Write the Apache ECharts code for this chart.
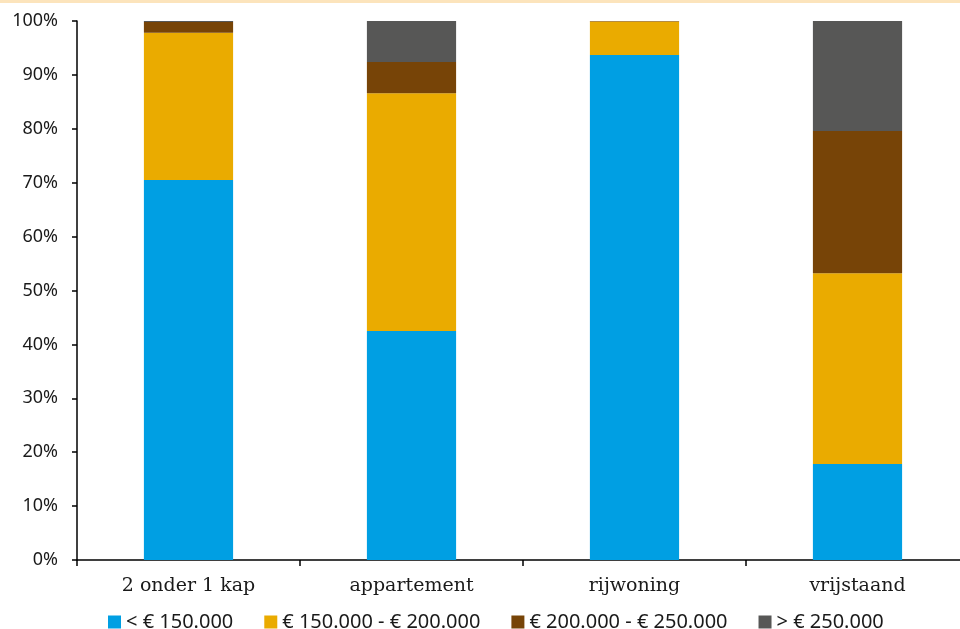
<!DOCTYPE html>
<html><head><meta charset="utf-8">
<script src="https://cdn.jsdelivr.net/npm/echarts@6/dist/echarts.min.js"></script>
<style>html,body{margin:0;padding:0;background:#fff}#c{width:960px;height:629px}</style>
</head><body><div id="c"></div>
<script>
const categories = ['2 onder 1 kap', 'appartement', 'rijwoning', 'vrijstaand'];
const seriesNames = ['< € 150.000', '€ 150.000 - € 200.000', '€ 200.000 - € 250.000', '> € 250.000'];
const s1 = [70.5, 42.5, 93.7, 17.8];
const s2 = [27.3, 44.1, 6.2, 35.4];
const s3 = [2.0, 5.8, 0.1, 26.4];
const s4 = [0.2, 7.6, 0.0, 20.4];
const colors = ['#009FE3', '#EAAB00', '#774407', '#575756'];
const yTicks = [0, 10, 20, 30, 40, 50, 60, 70, 80, 90, 100];

const chart = echarts.init(document.getElementById('c'));
const data = [s1, s2, s3, s4];
chart.setOption({
  animation: false,
  graphic: [{type: 'rect', shape: {x: 0, y: 0, width: 960, height: 3}, style: {fill: '#FCE4BC'}}],
  grid: {left: 77, top: 21, width: 892, height: 539, outerBoundsMode: 'none', containLabel: false},
  legend: {
    top: 607, left: 103, itemWidth: 13, itemHeight: 13, itemGap: 31,
    icon: 'rect',
    textStyle: {fontFamily: 'Noto Sans', fontSize: 20, color: '#1a1a1a'},
    data: seriesNames
  },
  xAxis: {
    type: 'category', data: categories,
    axisLine: {lineStyle: {color: '#000', width: 1.5}},
    axisTick: {show: true, length: 6, lineStyle: {color: '#000', width: 1.5}},
    axisLabel: {fontFamily: 'DejaVu Serif', fontSize: 19, color: '#1a1a1a', margin: 17}
  },
  yAxis: {
    type: 'value', min: 0, max: 100, interval: 10,
    axisLine: {show: true, lineStyle: {color: '#000', width: 1.5}},
    axisTick: {show: true, length: 5, lineStyle: {color: '#000', width: 1.5}},
    splitLine: {show: false},
    axisLabel: {formatter: v => yTicks.includes(v) ? v + '%' : '', fontFamily: 'Noto Sans', fontSize: 18, color: '#1a1a1a', margin: 19}
  },
  series: data.map((d, i) => ({
    name: seriesNames[i], type: 'bar', stack: 'total', data: d, barWidth: '40%',
    itemStyle: {color: colors[i]}
  }))
});
</script></body></html>
